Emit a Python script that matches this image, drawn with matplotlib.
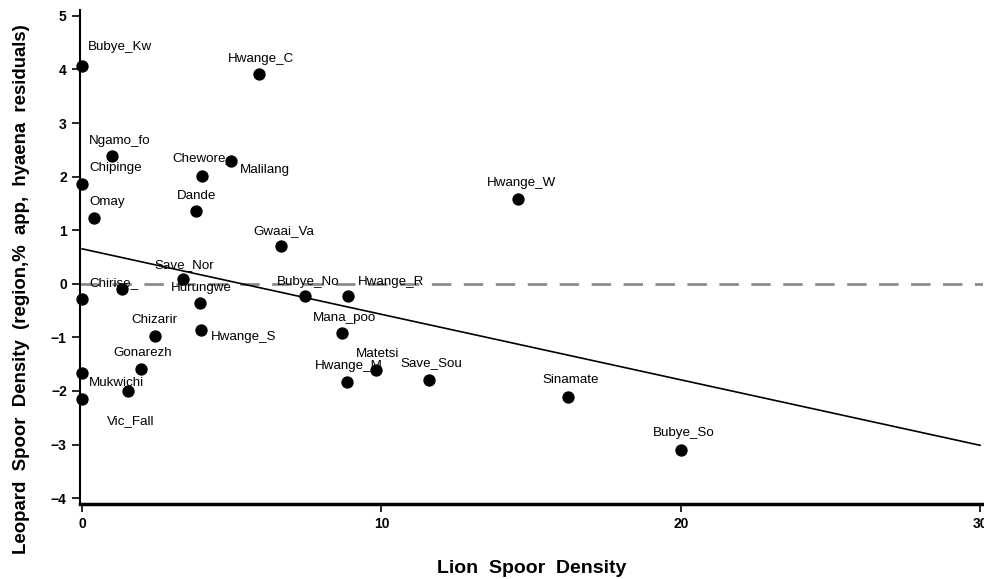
import matplotlib
matplotlib.use("Agg")
import matplotlib.pyplot as plt
import numpy as np

# Densidad de huellas: leon (x) vs residuales de leopardo (y)
sitios = ["Bubye_Kw", "Hwange_C", "Ngamo_fo", "Chipinge", "Chewore_", "Malilang",
          "Omay", "Dande", "Gwaai_Va", "Hwange_W", "Save_Nor", "Chirise_", "",
          "Hurungwe", "Hwange_S", "Chizarir", "Gonarezh", "", "Vic_Fall", "Mukwichi",
          "Bubye_No", "Hwange_R", "Mana_poo", "Matetsi", "Hwange_M", "Save_Sou",
          "Sinamate", "Bubye_So"]
leon = [0.0, 5.91, 1.0, 0.0, 4.0, 4.98,
        0.40, 3.81, 6.65, 14.57, 3.37, 1.34, 0.0,
        3.94, 3.97, 2.43, 1.98, 0.0, 1.54, 0.0,
        7.45, 8.89, 8.69, 9.82, 8.85, 11.59,
        16.24, 20.0]
leopardo = [4.06, 3.91, 2.39, 1.87, 2.02, 2.30,
            1.23, 1.35, 0.71, 1.59, 0.09, -0.09, -0.28,
            -0.35, -0.87, -0.98, -1.59, -1.66, -2.0, -2.15,
            -0.22, -0.22, -0.91, -1.61, -1.83, -1.79,
            -2.11, -3.10]
# posicion de cada etiqueta respecto al punto (pixeles)
desp = [(6, 19), (-31, 15), (-23, 15), (7, 16), (-29, 17), (9, -9),
        (-5, 16), (-19, 15), (-28, 15), (-31, 16), (-29, 14), (-33, 6), (0, 0),
        (-29, 15), (10, -7), (-23, 16), (-28, 16), (0, 0), (-21, -30), (7, 16),
        (-28, 14), (10, 14), (-29, 15), (-20, 16), (-32, 16), (-29, 17),
        (-26, 17), (-28, 17)]

x = np.array(leon)
y = np.array(leopardo)
pend, inter = np.polyfit(x, y, 1)

fuente = ["Liberation Sans", "DejaVu Sans"]

fig = plt.figure(figsize=(9.84, 5.79), dpi=100)
ax = fig.add_axes([80 / 984, 75 / 579, 903 / 984, 494 / 579])

ax.axhline(0, color="#8c8c8c", lw=2, dashes=(7, 4.5), zorder=1)
xl = np.array([0, 30])
ax.plot(xl, inter + pend * xl, color="black", lw=1.2, zorder=2)

for nom, xi, yi, (dx, dy) in zip(sitios, leon, leopardo, desp):
    if nom:
        ax.annotate(nom, (xi, yi), xytext=(dx, dy), textcoords="offset pixels",
                    ha="left", va="center", fontsize=9.6, family=fuente, zorder=3)

ax.scatter(x, y, s=62, color="black", zorder=4, clip_on=False)

ax.set_xlim(-0.07, 30.1)
ax.set_ylim(-4.11, 5.11)
ax.set_xticks([0, 10, 20, 30])
ax.set_yticks(range(-4, 6))
ax.spines["top"].set_visible(False)
ax.spines["right"].set_visible(False)
ax.spines["left"].set_linewidth(1.5)
ax.spines["bottom"].set_linewidth(2.5)
ax.tick_params(axis="both", direction="out", length=6, width=1.2, labelsize=10)
for t in ax.get_xticklabels() + ax.get_yticklabels():
    t.set_fontweight("bold")
    t.set_family(fuente)

ax.set_xlabel("Lion  Spoor  Density", fontsize=14, fontweight="bold",
              family=fuente)
ax.xaxis.set_label_coords(0.5, -56 / 494)
ax.set_ylabel("Leopard  Spoor  Density  (region,%  app,  hyaena  residuals)",
              fontsize=13.4, fontweight="bold", family=fuente)
ax.yaxis.set_label_coords(-50 / 903, 0.435)

fig.savefig("out.png", dpi=100)
